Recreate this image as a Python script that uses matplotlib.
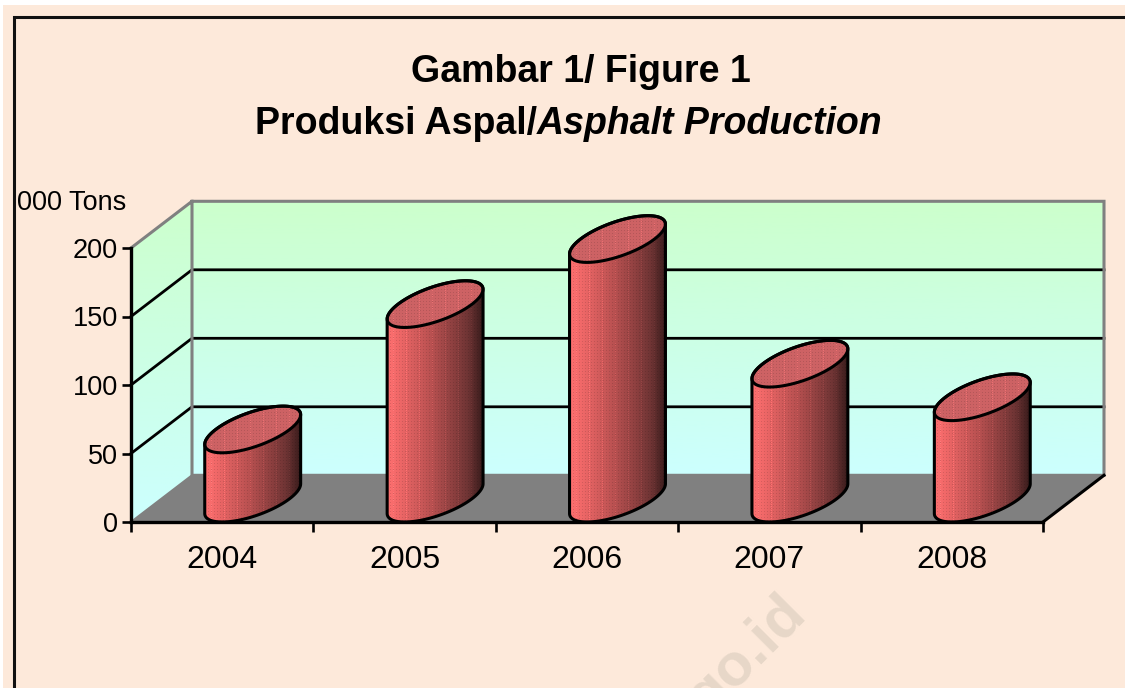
import numpy as np
import matplotlib
matplotlib.use('Agg')
import matplotlib.pyplot as plt
from matplotlib.lines import Line2D
from matplotlib.patches import Polygon, Rectangle

plt.rcParams['font.family'] = ['Liberation Sans', 'DejaVu Sans']

years = ['2004', '2005', '2006', '2007', '2008']
production = [50.5, 142, 189.5, 98.5, 74]
yTicks = [0, 50, 100, 150, 200]

W, H = 1125, 688
bgColor = '#fde9da'
depthX = 5 * 61 / 912
depthY = 200 * 46.7 / 274
barA = 37 / 182.4

fig = plt.figure(figsize=(W / 100, H / 100), dpi=100, facecolor='white')
fig.add_artist(Rectangle((3 / W, 0), 1, 1 - 5 / H, transform=fig.transFigure, fc=bgColor, ec='none', zorder=-5))
ax = fig.add_axes([131 / W, 1 - 522 / H, 912 / W, 274 / H])
ax.patch.set_visible(False)
ax.set_xlim(0, 5)
ax.set_ylim(0, 200)

# outer frame, open to the right and bottom
fig.add_artist(Line2D([13.5 / W, 13.5 / W, 1], [0, 1 - 16.5 / H, 1 - 16.5 / H], color='#111111', lw=2.2, solid_joinstyle='miter'))


def gradient(clip, extent, top, bottom, z):
    c = np.linspace(0, 1, 256)[:, None, None]
    arr = (1 - c) * np.array(top) + c * np.array(bottom)
    im = ax.imshow(arr, extent=extent, aspect='auto', zorder=z, origin='upper')
    ax.add_patch(clip)
    im.set_clip_box(fig.bbox)
    im.set_clip_path(clip)
    return im


green = np.array([204, 255, 204]) / 255
cyan = np.array([204, 255, 255]) / 255

# walls and floor
p = Polygon([(depthX, depthY), (5 + depthX, depthY), (5 + depthX, 200 + depthY), (depthX, 200 + depthY)],
            closed=True, fc='none', ec='none', clip_on=False)
gradient(p, (depthX, 5 + depthX, depthY, 200 + depthY), green, cyan, 0.5)
p = Polygon([(0, 0), (depthX, depthY), (depthX, 200 + depthY), (0, 200)], closed=True, fc='none', ec='none', clip_on=False)
gradient(p, (0, depthX, 0, 200 + depthY), green, cyan, 0.5)
ax.add_patch(Polygon([(0, 0), (5, 0), (5 + depthX, depthY), (depthX, depthY)], closed=True,
                     fc='#808080', ec='none', zorder=0.6, clip_on=False))

for v in yTicks[1:-1]:
    ax.plot([0, depthX, 5 + depthX], [v, v + depthY, v + depthY], color='black', lw=2, zorder=0.8,
            clip_on=False, solid_joinstyle='miter')

gray = '#808080'
ax.plot([0, depthX, 5 + depthX, 5 + depthX, depthX, depthX], [200, 200 + depthY, 200 + depthY, depthY, depthY, 200 + depthY],
        color=gray, lw=2.2, zorder=0.9, clip_on=False, solid_joinstyle='miter')
ax.plot([0, depthX], [0, depthY], color=gray, lw=1.5, zorder=0.9, clip_on=False)
ax.plot([5, 5 + depthX], [0, depthY], color='black', lw=2.2, zorder=0.9, clip_on=False)


def ellipse(cx, cy, t):
    return cx + barA * np.cos(t) + depthX / 2 * np.sin(t), cy + depthY / 2 * np.sin(t)


def textured(clip, extent, rgb, z):
    ax.add_patch(clip)
    px = ax.transData.transform([(extent[0], extent[2]), (extent[1], extent[3])])
    nx = int(abs(px[1, 0] - px[0, 0])) + 1
    ny = int(abs(px[1, 1] - px[0, 1])) + 1
    xx, yy = np.meshgrid(np.arange(nx), np.arange(ny))
    arr = rgb(np.linspace(0, 1, nx))[None, :, :] * np.ones((ny, nx, 1))
    dots = ((xx % 3 == 0) & (yy % 3 == 0))[:, :, None]
    arr = np.where(dots, arr * 0.88, arr)
    stripes = ((xx % 13 == 6) & (yy % 2 == 0))[:, :, None]
    arr = np.where(stripes, np.clip(arr * 1.15, 0, 1), arr)
    im = ax.imshow(arr, extent=extent, aspect='auto', zorder=z, origin='upper', interpolation='nearest')
    im.set_clip_box(fig.bbox)
    im.set_clip_path(clip)


stops = np.array([0, 0.12, 0.5, 0.85, 1])
cols = np.array([[255, 112, 112], [240, 104, 104], [178, 78, 78], [110, 52, 52], [58, 28, 28]]) / 255


def sideColor(x):
    return np.stack([np.interp(x, stops, cols[:, i]) for i in range(3)], axis=1)


def topColor(x):
    return np.ones((len(x), 1)) * np.array([205, 98, 100]) / 255


t0 = np.arctan2(depthX / 2, barA)
halfW = np.hypot(barA, depthX / 2)
for i, val in enumerate(production):
    cx = i + 0.5 + depthX / 2
    xb, yb = ellipse(cx, depthY / 2, np.linspace(t0 - np.pi, t0, 80))
    xt, yt = ellipse(cx, val + depthY / 2, np.linspace(t0, t0 + np.pi, 80))
    body = list(zip(xb, yb)) + list(zip(xt, yt))
    clip = Polygon(body, closed=True, fc='none', ec='none', clip_on=False)
    textured(clip, (cx - halfW, cx + halfW, 0, val + depthY), sideColor, 2 + i * 0.01)
    xe, ye = ellipse(cx, val + depthY / 2, np.linspace(0, 2 * np.pi, 160))
    clip = Polygon(list(zip(xe, ye)), closed=True, fc='none', ec='none', clip_on=False)
    textured(clip, (cx - halfW, cx + halfW, val, val + depthY), topColor, 2.002 + i * 0.01)
    ax.add_patch(Polygon(body, closed=True, fc='none', ec='black', lw=2.2, zorder=2.004 + i * 0.01, clip_on=False))
    ax.add_patch(Polygon(list(zip(xe, ye)), closed=True, fc='none', ec='black', lw=2.2, zorder=2.004 + i * 0.01, clip_on=False))

ax.set_xlim(0, 5)
ax.set_ylim(0, 200)

# axes
for s in ['top', 'right']:
    ax.spines[s].set_visible(False)
for s in ['left', 'bottom']:
    ax.spines[s].set_linewidth(2.4)
    ax.spines[s].set_zorder(3)
ax.set_yticks(yTicks)
ax.tick_params(axis='y', length=6.5, width=1.9, labelsize=19.5, pad=3)
ax.set_xticks(np.arange(6))
ax.set_xticklabels([])
ax.tick_params(axis='x', which='major', length=7, width=1.9)
ax.set_xticks(np.arange(5) + 0.5, minor=True)
ax.set_xticklabels(years, minor=True)
ax.tick_params(axis='x', which='minor', length=0, labelsize=23, pad=16.3)

# texts
fig.text(581 / W, 1 - 72 / H, 'Gambar 1/ Figure 1', fontsize=27, fontweight='bold', ha='center', va='center')
fig.text(537 / W, 1 - 124 / H, 'Produksi Aspal/', fontsize=27, fontweight='bold', ha='right', va='center')
fig.text(537 / W, 1 - 124 / H, 'Asphalt Production', fontsize=27, fontweight='bold', style='italic', ha='left', va='center')
fig.text(17 / W, 1 - 203 / H, '000 Tons', fontsize=19.5, ha='left', va='center')

# watermark
fig.text(778 / W, 1 - 585 / H, 'go.id', fontsize=43, fontweight='bold', color='#e7d7c8', rotation=45,
         ha='right', va='top', rotation_mode='anchor', zorder=-1)

fig.savefig('out.png', dpi=100, facecolor='white')
